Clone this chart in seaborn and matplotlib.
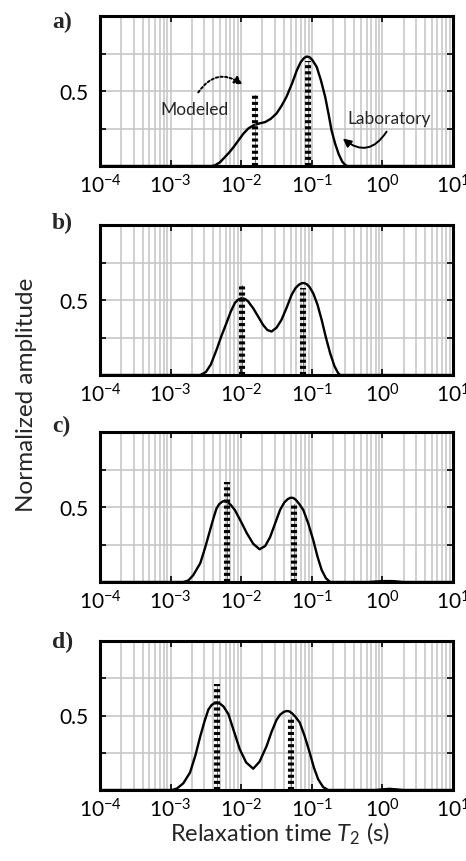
import numpy as np
import pandas as pd
import matplotlib
matplotlib.use("Agg")
import matplotlib.pyplot as plt
import seaborn as sns
from matplotlib.ticker import LogLocator, FixedLocator, NullFormatter

# ---------------- data ----------------
panel_labels = ["a)", "b)", "c)", "d)"]

# Laboratory curves: log10(T2) and normalized amplitude
lab_a_logt = [-4.0, -2.42, -2.37, -2.30, -2.23, -2.17, -2.11, -2.04, -1.97, -1.90, -1.83, -1.75, -1.66,
              -1.58, -1.50, -1.43, -1.36, -1.28, -1.21, -1.16, -1.11, -1.07, -1.03, -0.99, -0.93,
              -0.87, -0.81, -0.76, -0.72, -0.67, -0.62, -0.57, -0.53, -0.50, 1.0]
lab_a_amp = [0.0, 0.0, 0.005, 0.025, 0.06, 0.09, 0.125, 0.17, 0.215, 0.25, 0.27, 0.283, 0.293,
             0.315, 0.35, 0.40, 0.46, 0.55, 0.64, 0.69, 0.72, 0.73, 0.725, 0.705, 0.66,
             0.57, 0.46, 0.34, 0.237, 0.15, 0.08, 0.03, 0.008, 0.0, 0.0]

lab_b_logt = [-4.0, -2.58, -2.50, -2.43, -2.35, -2.28, -2.21, -2.15, -2.09, -2.05, -2.01, -1.98, -1.94,
              -1.90, -1.87, -1.83, -1.76, -1.69, -1.63, -1.57, -1.50, -1.43, -1.36, -1.285, -1.23,
              -1.18, -1.14, -1.11, -1.07, -1.03, -0.98, -0.92, -0.86, -0.80, -0.74, -0.68, -0.63,
              -0.60, 1.0]
lab_b_amp = [0.0, 0.0, 0.02, 0.07, 0.167, 0.26, 0.345, 0.42, 0.48, 0.50, 0.51, 0.512, 0.505,
             0.49, 0.47, 0.445, 0.39, 0.334, 0.30, 0.29, 0.315, 0.367, 0.445, 0.535, 0.58,
             0.603, 0.612, 0.613, 0.605, 0.585, 0.545, 0.47, 0.367, 0.25, 0.145, 0.06, 0.015,
             0.0, 0.0]

lab_c_logt = [-4.0, -2.82, -2.75, -2.68, -2.58, -2.51, -2.44, -2.39, -2.35, -2.31, -2.27, -2.24, -2.20,
              -2.15, -2.09, -2.00, -1.92, -1.83, -1.74, -1.66, -1.59, -1.52, -1.45, -1.39, -1.34,
              -1.30, -1.26, -1.22, -1.17, -1.12, -1.05, -0.98, -0.92, -0.86, -0.80, -0.74, -0.2,
              0.0, 0.15, 0.3, 1.0]
lab_c_amp = [0.0, 0.0, 0.01, 0.045, 0.125, 0.23, 0.347, 0.43, 0.49, 0.52, 0.535, 0.54, 0.535,
             0.515, 0.48, 0.40, 0.325, 0.255, 0.218, 0.24, 0.30, 0.39, 0.48, 0.53, 0.553,
             0.562, 0.56, 0.545, 0.515, 0.48, 0.39, 0.28, 0.17, 0.08, 0.025, 0.0, 0.0,
             0.006, 0.006, 0.0, 0.0]

lab_d_logt = [-4.0, -2.98, -2.91, -2.82, -2.725, -2.65, -2.58, -2.52, -2.465, -2.42, -2.38, -2.34, -2.30,
              -2.25, -2.18, -2.10, -2.02, -1.93, -1.83, -1.74, -1.64, -1.57, -1.50, -1.45, -1.40,
              -1.36, -1.32, -1.28, -1.23, -1.17, -1.10, -1.03, -0.97, -0.91, -0.84, -0.77, -0.1,
              0.1, 0.3, 1.0]
lab_d_amp = [0.0, 0.0, 0.01, 0.045, 0.117, 0.23, 0.36, 0.46, 0.54, 0.57, 0.583, 0.586, 0.58,
             0.56, 0.508, 0.39, 0.273, 0.185, 0.143, 0.19, 0.295, 0.39, 0.47, 0.505, 0.523,
             0.53, 0.528, 0.515, 0.49, 0.452, 0.36, 0.251, 0.15, 0.072, 0.02, 0.0, 0.0,
             0.008, 0.0, 0.0]

# Modeled distributions (bars): T2 position (s) and amplitude
mod_a_t = [0.0158, 0.087]
mod_a_amp = [0.475, 0.70]
mod_b_t = [0.0102, 0.0759]
mod_b_amp = [0.60, 0.58]
mod_c_t = [0.0062, 0.0562]
mod_c_amp = [0.665, 0.52]
mod_d_t = [0.0046, 0.0507]
mod_d_amp = [0.71, 0.49]

x_ticks = [1e-4, 1e-3, 1e-2, 1e-1, 1e0, 1e1]
y_ticks = [0.25, 0.5, 0.75]
y_tick_labels = ["", "0.5", ""]

lab_logt = [lab_a_logt, lab_b_logt, lab_c_logt, lab_d_logt]
lab_amp = [lab_a_amp, lab_b_amp, lab_c_amp, lab_d_amp]
mod_t = [mod_a_t, mod_b_t, mod_c_t, mod_d_t]
mod_amp = [mod_a_amp, mod_b_amp, mod_c_amp, mod_d_amp]

# ---------------- style ----------------
sns.set_theme(style="white")
SANS = "Lato"
plt.rcParams["font.family"] = [SANS, "DejaVu Sans"]
plt.rcParams["mathtext.fontset"] = "custom"
plt.rcParams["mathtext.rm"] = SANS
plt.rcParams["mathtext.it"] = SANS + ":italic"
plt.rcParams["mathtext.bf"] = SANS + ":bold"

W, H = 466, 862
fig = plt.figure(figsize=(W / 100, H / 100), dpi=100)

tops = [17, 226, 433, 642]
bottoms = [167, 376, 583, 791]
label_pos = [(52, 28), (52, 229), (52, 432), (52, 648)]
left_px, right_px = 100, 453

grid_color = "#c4c4c4"

axes = []
for i in range(4):
    ax = fig.add_axes([left_px / W, 1 - bottoms[i] / H, (right_px - left_px) / W,
                       (bottoms[i] - tops[i]) / H])
    axes.append(ax)
    ax.set_xscale("log")
    ax.set_xlim(1e-4, 1e1)
    ax.set_ylim(0, 1.0)

    ax.xaxis.set_major_locator(FixedLocator(x_ticks))
    ax.xaxis.set_minor_locator(LogLocator(base=10, subs=np.arange(2, 10), numticks=50))
    ax.xaxis.set_minor_formatter(NullFormatter())
    ax.yaxis.set_major_locator(FixedLocator(y_ticks))
    ax.set_yticklabels(y_tick_labels)

    ax.grid(True, which="major", color=grid_color, lw=1.1, zorder=0)
    ax.grid(True, which="minor", axis="x", color=grid_color, lw=1.1, zorder=0)
    ax.set_axisbelow(True)

    ax.tick_params(axis="both", which="major", direction="in", length=4, width=1.2,
                   top=True, right=True, bottom=True, left=True, colors="black",
                   labelsize=15, pad=5)
    ax.tick_params(axis="x", which="minor", length=0)
    ax.tick_params(axis="y", pad=8)
    for sp in ax.spines.values():
        sp.set_color("black")
        sp.set_linewidth(2.2)
        sp.set_visible(True)

    df = pd.DataFrame({"t": 10.0 ** np.array(lab_logt[i]), "amp": lab_amp[i]})
    sns.lineplot(data=df, x="t", y="amp", ax=ax, color="black", lw=1.7,
                 estimator=None, sort=False, zorder=3)

    for t, h in zip(mod_t[i], mod_amp[i]):
        ax.plot([t, t], [0, h], color="#666666", lw=0.6, zorder=4)
        ax.plot([t, t], [0, h], color="black", lw=4.4, dashes=(0.5, 0.5),
                dash_capstyle="butt", zorder=5)
    ax.set_xlabel("")
    ax.set_ylabel("")

    fig.text(label_pos[i][0] / W, 1 - label_pos[i][1] / H, panel_labels[i],
             family="Liberation Serif", fontweight="bold", fontsize=17,
             ha="left", va="baseline")

# annotations in panel a
ax = axes[0]
ax.text(10 ** -3.15, 0.38, "Modeled", fontsize=12.5, ha="left", va="center")
ax.annotate("", xy=(10 ** -1.95, 0.53), xytext=(10 ** -2.63, 0.475),
            arrowprops=dict(arrowstyle="-|>", linestyle=(0, (1.2, 1.2)), lw=1.4,
                            color="black", connectionstyle="arc3,rad=-0.55",
                            mutation_scale=12))
ax.text(10 ** -0.49, 0.32, "Laboratory", fontsize=12.5, ha="left", va="center")
ax.annotate("", xy=(10 ** -0.59, 0.195), xytext=(10 ** 0.08, 0.245),
            arrowprops=dict(arrowstyle="-|>", lw=1.4, color="black",
                            connectionstyle="arc3,rad=-0.6", mutation_scale=12))

fig.text(27 / W, 1 - 395 / H, "Normalized amplitude", rotation=90, fontsize=17.5,
         ha="center", va="center")
fig.text(280 / W, 1 - 834 / H, "Relaxation time $T_2$ (s)", fontsize=17,
         ha="center", va="center")

fig.savefig("out.png", dpi=100)
